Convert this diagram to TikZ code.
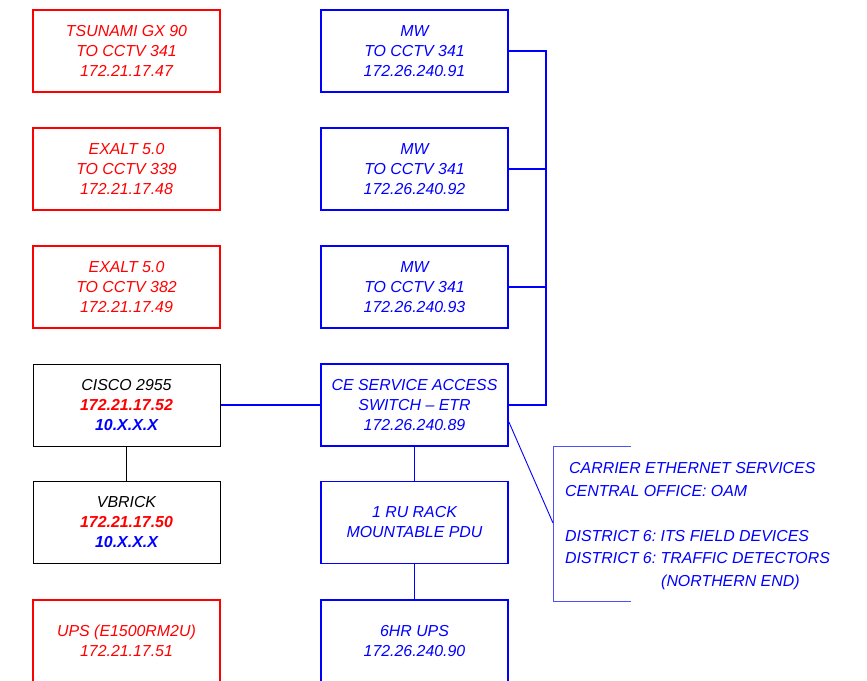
\documentclass[tikz,border=0pt]{standalone}
\usepackage{fontspec}
\setmainfont{Liberation Sans}
\frenchspacing
\definecolor{rd}{RGB}{255,0,0}
\definecolor{bl}{RGB}{0,0,255}
\definecolor{lbl}{RGB}{80,80,255}
\begin{document}
\begin{tikzpicture}[x=1pt,y=-1pt,
  box/.style={draw, minimum width=187pt, minimum height=82pt, inner sep=0pt, align=center,
    font=\fontsize{15.9}{20}\selectfont\itshape, line width=1.8pt},
  redbox/.style={box, draw=rd, text=rd},
  bluebox/.style={box, draw=bl, text=bl},
  blackbox/.style={box, draw=black, text=black, line width=1pt},
  bline/.style={draw=bl, line width=1.8pt},
  kline/.style={draw=black, line width=1pt},
  brline/.style={draw=lbl, line width=1pt}]
\useasboundingbox (0,0) rectangle (867,680);
% left column
\node[redbox] (ts) at (126.5,51) {TSUNAMI GX 90\\TO CCTV 341\\172.21.17.47};
\node[redbox] (ex1) at (126.5,169) {EXALT 5.0\\TO CCTV 339\\172.21.17.48};
\node[redbox] (ex2) at (126.5,287) {EXALT 5.0\\TO CCTV 382\\172.21.17.49};
\node[blackbox] (cisco) at (126.5,405) {CISCO 2955\\\textcolor{rd}{\bfseries 172.21.17.52}\\\textcolor{bl}{\bfseries 10.X.X.X}};
\node[blackbox] (vb) at (126.5,522.5) {VBRICK\\\textcolor{rd}{\bfseries 172.21.17.50}\\\textcolor{bl}{\bfseries 10.X.X.X}};
\node[redbox] (ups1) at (126.5,641) {UPS (E1500RM2U)\\172.21.17.51};
% middle column
\node[bluebox] (mw1) at (414.5,51) {MW\\TO CCTV 341\\172.26.240.91};
\node[bluebox] (mw2) at (414.5,169) {MW\\TO CCTV 341\\172.26.240.92};
\node[bluebox] (mw3) at (414.5,287) {MW\\TO CCTV 341\\172.26.240.93};
\node[bluebox] (ce) at (414.5,405) {CE SERVICE ACCESS\\SWITCH -- ETR\\172.26.240.89};
\node[bluebox] (pdu) at (414.5,522.5) {1 RU RACK\\MOUNTABLE PDU};
\node[bluebox] (ups2) at (414.5,641) {6HR UPS\\172.26.240.90};
% connectors
\draw[bline] (mw1.east) -- ++(37,0) |- (ce.east);
\draw[bline] (mw2.east) -- ++(37,0);
\draw[bline] (mw3.east) -- ++(37,0);
\draw[bline] (cisco.east) -- (ce.west);
\draw[kline] (cisco.south) -- (vb.north);
\draw[bline] (ce.south) -- (pdu.north);
\draw[bline] (pdu.south) -- (ups2.north);
% bracket callout
\coordinate (brk) at (553,523);
\coordinate (brt) at (631,446);
\coordinate (brb) at (631,601);
\draw[brline] (brt) -- (brt -| brk) -- (brb -| brk) -- (brb);
\draw[draw=bl, line width=0.9pt] ([yshift=-17pt]ce.east) -- (brk);
\node[anchor=north west, inner sep=0pt, align=left, text=bl,
  font=\fontsize{15.9}{22.5}\selectfont\itshape] (txt) at (565,462.5)
  {\hspace*{4pt}CARRIER ETHERNET SERVICES\\CENTRAL OFFICE: OAM\\[22.5pt]DISTRICT 6: ITS FIELD DEVICES\\DISTRICT 6: TRAFFIC DETECTORS\\\hspace*{96pt}(NORTHERN END)};
\end{tikzpicture}
\end{document}
